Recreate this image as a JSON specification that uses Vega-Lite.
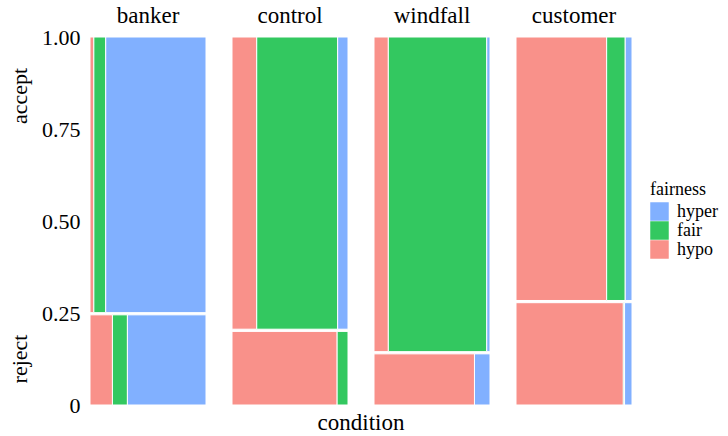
{
  "$schema": "https://vega.github.io/schema/vega-lite/v6.json",
  "background": "white",
  "padding": {"left": 8, "right": 5, "top": 5, "bottom": 5},
  "config": {
    "font": "Liberation Serif",
    "view": {"stroke": null},
    "axis": {"grid": false, "ticks": false, "domain": false, "labelColor": "black", "titleColor": "black", "labelFont": "Liberation Serif"},
    "text": {"font": "Liberation Serif"},
    "legend": {"layout": {"right": {"anchor": "middle"}}}
  },
  "datasets": {
    "counts": [
      {"condition": "banker", "response": "accept", "fairness": "hypo", "n": 2.5},
      {"condition": "banker", "response": "accept", "fairness": "fair", "n": 7.7},
      {"condition": "banker", "response": "accept", "fairness": "hyper", "n": 65.0},
      {"condition": "banker", "response": "reject", "fairness": "hypo", "n": 4.8},
      {"condition": "banker", "response": "reject", "fairness": "fair", "n": 3.2},
      {"condition": "banker", "response": "reject", "fairness": "hyper", "n": 16.8},
      {"condition": "control", "response": "accept", "fairness": "hypo", "n": 17.0},
      {"condition": "control", "response": "accept", "fairness": "fair", "n": 55.6},
      {"condition": "control", "response": "accept", "fairness": "hyper", "n": 7.1},
      {"condition": "control", "response": "reject", "fairness": "hypo", "n": 18.4},
      {"condition": "control", "response": "reject", "fairness": "fair", "n": 1.9},
      {"condition": "windfall", "response": "accept", "fairness": "hypo", "n": 10.6},
      {"condition": "windfall", "response": "accept", "fairness": "fair", "n": 72.8},
      {"condition": "windfall", "response": "accept", "fairness": "hyper", "n": 2.4},
      {"condition": "windfall", "response": "reject", "fairness": "hypo", "n": 12.3},
      {"condition": "windfall", "response": "reject", "fairness": "hyper", "n": 1.9},
      {"condition": "customer", "response": "accept", "fairness": "hypo", "n": 56.2},
      {"condition": "customer", "response": "accept", "fairness": "fair", "n": 11.5},
      {"condition": "customer", "response": "accept", "fairness": "hyper", "n": 4.2},
      {"condition": "customer", "response": "reject", "fairness": "hypo", "n": 26.0},
      {"condition": "customer", "response": "reject", "fairness": "fair", "n": 0.3},
      {"condition": "customer", "response": "reject", "fairness": "hyper", "n": 1.8}
    ],
    "responses": [
      {"g": "x", "response": "accept", "pos": 0.84},
      {"g": "x", "response": "reject", "pos": 0.125}
    ]
  },
  "spacing": 10,
  "hconcat": [
    {
      "data": {"name": "responses"},
      "facet": {
        "column": {
          "field": "g", "type": "nominal", "title": null,
          "header": {"labelOrient": "top", "labelFontSize": 23, "labelColor": "transparent", "labelPadding": 8, "labelFont": "Liberation Serif"}
        }
      },
      "spec": {
        "width": 14,
        "height": 368,
        "mark": {"type": "text", "angle": 270, "fontSize": 22, "color": "black", "baseline": "middle", "align": "center", "font": "Liberation Serif"},
        "encoding": {
          "y": {"field": "pos", "type": "quantitative", "scale": {"domain": [0, 1], "nice": false}, "axis": null},
          "text": {"field": "response", "type": "nominal"}
        }
      }
    },
    {
      "data": {"name": "counts"},
      "transform": [
        {"calculate": "indexof(['hypo','fair','hyper'], datum.fairness)", "as": "order"},
        {"joinaggregate": [{"op": "sum", "field": "n", "as": "cond_n"}], "groupby": ["condition"]},
        {"joinaggregate": [{"op": "sum", "field": "n", "as": "resp_n"}], "groupby": ["condition", "response"]},
        {"stack": "n", "groupby": ["condition", "response"], "sort": [{"field": "order", "order": "ascending"}], "offset": "normalize", "as": ["x0", "x1"]},
        {"calculate": "datum.response === 'reject' ? 0 : 1", "as": "outer"},
        {"calculate": "datum.response === 'reject' ? datum.resp_n / datum.cond_n - 0.003 : 1 - datum.resp_n / datum.cond_n + 0.003", "as": "inner"}
      ],
      "facet": {
        "column": {
          "field": "condition",
          "type": "nominal",
          "sort": ["banker", "control", "windfall", "customer"],
          "title": "condition",
          "header": {
            "labelOrient": "top",
            "titleOrient": "bottom",
            "labelFontSize": 23,
            "titleFontSize": 23,
            "titleFontWeight": "normal",
            "labelFont": "Liberation Serif",
            "titleFont": "Liberation Serif",
            "labelColor": "black",
            "titleColor": "black",
            "labelPadding": 8,
            "titlePadding": -4
          }
        }
      },
      "spacing": 24,
      "spec": {
        "width": 116,
        "height": 368,
        "mark": {"type": "rect", "stroke": "white", "strokeWidth": 1},
        "encoding": {
          "x": {"field": "x0", "type": "quantitative", "scale": {"domain": [0, 1], "nice": false}, "axis": null},
          "x2": {"field": "x1"},
          "y": {
            "field": "inner", "type": "quantitative",
            "scale": {"domain": [0, 1], "nice": false},
            "axis": {
              "values": [0, 0.25, 0.5, 0.75, 1],
              "labelExpr": "datum.value == 0 ? '0' : format(datum.value, '.2f')",
              "title": null,
              "labelFontSize": 22,
              "labelPadding": 9,
              "labelFont": "Liberation Serif"
            }
          },
          "y2": {"field": "outer"},
          "color": {
            "field": "fairness", "type": "nominal",
            "scale": {"domain": ["hyper", "fair", "hypo"], "range": ["#81B0FF", "#33C860", "#F9918A"]},
            "legend": {
              "title": "fairness",
              "symbolType": "square",
              "symbolSize": 342,
              "symbolStrokeWidth": 0,
              "symbolOpacity": 1,
              "rowPadding": 0,
              "labelFontSize": 18,
              "titleFontSize": 18,
              "titleFontWeight": "normal",
              "labelFont": "Liberation Serif",
              "titleFont": "Liberation Serif",
              "labelOffset": 8,
              "titlePadding": 3,
              "labelColor": "black",
              "titleColor": "black",
              "offset": 17
            }
          }
        }
      }
    }
  ]
}
